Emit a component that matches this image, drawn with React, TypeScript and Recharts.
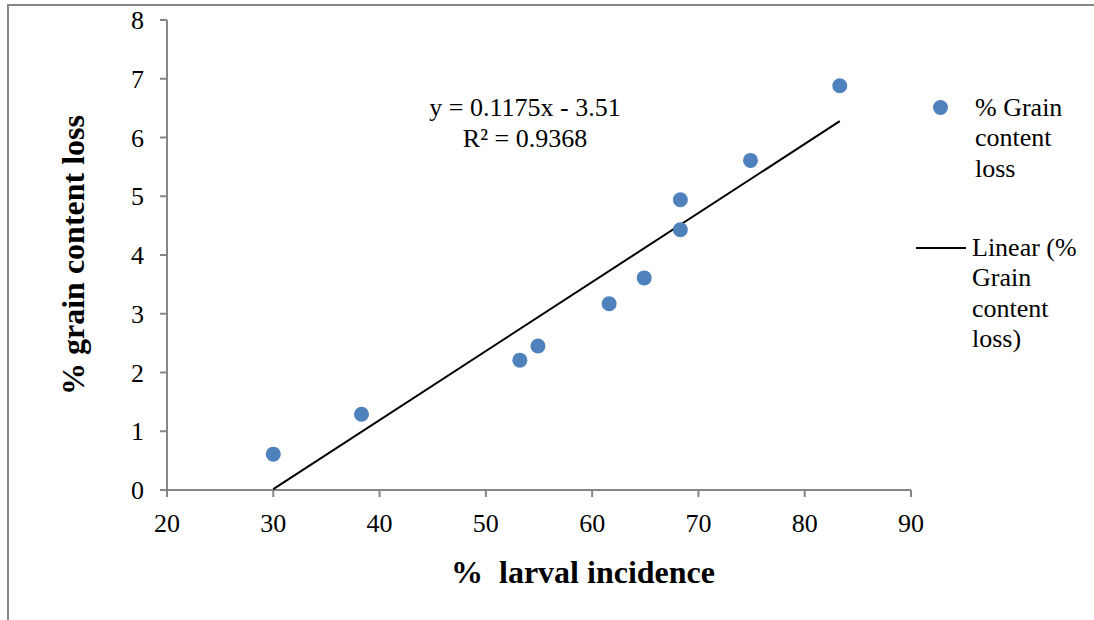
import React from "react";
import { ScatterChart, Scatter, XAxis, YAxis } from "recharts";

// % larval incidence vs % grain content loss
const larvalIncidence = [30.0, 38.3, 53.2, 54.9, 61.6, 64.9, 68.3, 68.3, 74.9, 83.3];
const grainLoss = [0.61, 1.29, 2.21, 2.45, 3.17, 3.61, 4.43, 4.94, 5.61, 6.88];

// fitted line shown on the chart: y = 0.1175x - 3.51
const slope = 0.1175;
const intercept = -3.51;
const trendXs = [30.0, 83.3];

const xTicks = [20, 30, 40, 50, 60, 70, 80, 90];
const yTicks = [0, 1, 2, 3, 4, 5, 6, 7, 8];

const points = larvalIncidence.map((x, i) => ({ x, y: grainLoss[i] }));
const trend = trendXs.map((x) => ({ x, y: slope * x + intercept }));

const FONT = "'Liberation Serif', 'Times New Roman', serif";
const AXIS = "#868686";

const Dot = (props: any) => <circle cx={props.cx} cy={props.cy} r={7.5} fill="#4F81BD" />;

export default function App() {
  return (
    <div style={{ position: "absolute", left: 0, top: 0, width: 1094, height: 620, background: "#fff", overflow: "hidden", fontFamily: FONT }}>
      {/* chart frame, only top and left edges visible */}
      <div style={{ position: "absolute", left: 7, top: 4, width: 1200, height: 700, borderTop: `2px solid ${AXIS}`, borderLeft: `2px solid ${AXIS}` }} />

      <ScatterChart width={1094} height={620} margin={{ top: 20, right: 183, bottom: 0, left: 0 }}>
        <XAxis
          type="number"
          dataKey="x"
          domain={[20, 90]}
          ticks={xTicks}
          interval={0}
          height={130}
          stroke={AXIS}
          strokeWidth={2}
          tickSize={7}
          tickMargin={17}
          tick={{ fill: "#000", fontSize: 26, fontFamily: FONT }}
          label={(p: any) => (
            <text x={583} y={p.viewBox.y + 82} textAnchor="middle" dominantBaseline="central" fontFamily={FONT} fontSize={32} fontWeight="bold" fill="#000">
              %{"\u00a0\u00a0"}larval incidence
            </text>
          )}
        />
        <YAxis
          type="number"
          dataKey="y"
          domain={[0, 8]}
          ticks={yTicks}
          interval={0}
          width={167}
          stroke={AXIS}
          strokeWidth={2}
          tickSize={7}
          tickMargin={16}
          tick={{ fill: "#000", fontSize: 26, fontFamily: FONT }}
          label={(p: any) => {
            const cx = p.viewBox.x + 73;
            const cy = p.viewBox.y + p.viewBox.height / 2;
            return (
              <text x={cx} y={cy} transform={`rotate(-90 ${cx} ${cy})`} textAnchor="middle" dominantBaseline="central" fontFamily={FONT} fontSize={32} fontWeight="bold" fill="#000">
                % grain content loss
              </text>
            );
          }}
        />
        <Scatter data={trend} line={{ stroke: "#000", strokeWidth: 2 }} shape={() => <g />} isAnimationActive={false} />
        <Scatter data={points} shape={Dot} isAnimationActive={false} />
      </ScatterChart>

      {/* trendline equation */}
      <div style={{ position: "absolute", left: 375, top: 93, width: 300, textAlign: "center", fontSize: 26, lineHeight: "30.5px", color: "#000" }}>
        <div>y = 0.1175x - 3.51</div>
        <div>R² = 0.9368</div>
      </div>

      {/* legend */}
      <div style={{ position: "absolute", left: 932.5, top: 99.5, width: 15, height: 15, borderRadius: "50%", background: "#4F81BD" }} />
      <div style={{ position: "absolute", left: 975, top: 92.5, fontSize: 26, lineHeight: "30.5px", color: "#000" }}>
        <div>% Grain</div>
        <div>content</div>
        <div>loss</div>
      </div>
      <div style={{ position: "absolute", left: 916, top: 247, width: 50, height: 2, background: "#000" }} />
      <div style={{ position: "absolute", left: 972, top: 232.5, fontSize: 26, lineHeight: "30.5px", color: "#000" }}>
        <div>Linear (%</div>
        <div>Grain</div>
        <div>content</div>
        <div>loss)</div>
      </div>
    </div>
  );
}
